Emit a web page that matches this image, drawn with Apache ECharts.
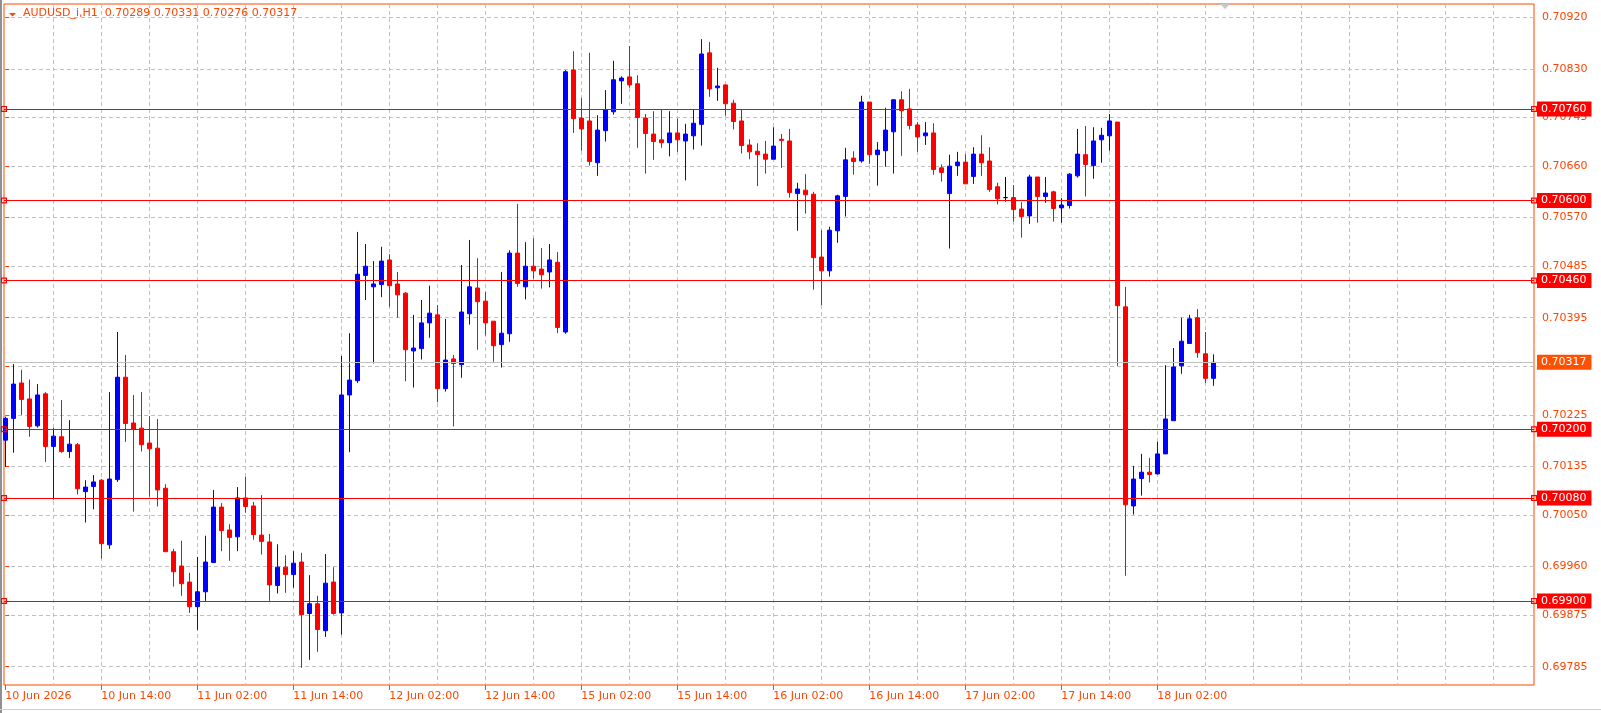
<!DOCTYPE html>
<html>
<head>
<meta charset="utf-8">
<script src="https://cdn.jsdelivr.net/npm/echarts@6/dist/echarts.min.js"></script>
<style>
html, body { margin: 0; padding: 0; background: #fff; }
#chart { width: 1601px; height: 713px; }
</style>
</head>
<body>
<div id="chart"></div>
<script>
// AUDUSD_i H1 bars, 10 Jun 02:00 .. 18 Jun 09:00
const opens = [
  0.70181,0.70219,0.70281,0.70253,0.70206,0.70262,0.70170,0.70187,0.70161,0.70173,0.70091,0.70100,
  0.70111,0.69998,0.70112,0.70291,0.70211,0.70202,0.70176,0.70167,0.70097,0.69986,0.69961,0.69933,
  0.69890,0.69916,0.69967,0.70064,0.70024,0.70012,0.70080,0.70066,0.70015,0.70003,0.69927,0.69959,
  0.69946,0.69968,0.69878,0.69895,0.69848,0.69933,0.69879,0.70260,0.70285,0.70469,0.70449,0.70453,
  0.70496,0.70454,0.70438,0.70337,0.70341,0.70386,0.70400,0.70271,0.70323,0.70313,0.70402,0.70447,
  0.70424,0.70389,0.70348,0.70367,0.70508,0.70449,0.70485,0.70480,0.70475,0.70492,0.70370,0.70828,
  0.70744,0.70739,0.70666,0.70722,0.70755,0.70809,0.70816,0.70804,0.70744,0.70716,0.70706,0.70701,
  0.70718,0.70704,0.70713,0.70733,0.70858,0.70797,0.70802,0.70770,0.70739,0.70697,0.70686,0.70681,
  0.70672,0.70707,0.70704,0.70612,0.70618,0.70611,0.70501,0.70477,0.70547,0.70607,0.70674,0.70669,
  0.70772,0.70680,0.70687,0.70720,0.70776,0.70760,0.70732,0.70713,0.70718,0.70657,0.70612,0.70661,
  0.70667,0.70642,0.70681,0.70669,0.70624,0.70605,0.70605,0.70585,0.70573,0.70641,0.70607,0.70615,
  0.70587,0.70591,0.70643,0.70680,0.70661,0.70706,0.70713,0.70737,0.70414,0.70066,0.70114,0.70125,
  0.70122,0.70157,0.70215,0.70311,0.70350,0.70395,0.70332,0.70289
];
const highs = [
  0.70222,0.70314,0.70304,0.70287,0.70279,0.70265,0.70202,0.70251,0.70216,0.70176,0.70111,0.70120,
  0.70113,0.70265,0.70370,0.70330,0.70260,0.70265,0.70223,0.70218,0.70104,0.69991,0.70005,0.69949,
  0.69977,0.70014,0.70094,0.70071,0.70034,0.70099,0.70117,0.70073,0.70085,0.70017,0.69999,0.69980,
  0.69987,0.69984,0.69945,0.69909,0.69982,0.69959,0.70328,0.70368,0.70545,0.70524,0.70494,0.70519,
  0.70506,0.70475,0.70440,0.70400,0.70426,0.70451,0.70417,0.70393,0.70330,0.70487,0.70531,0.70499,
  0.70440,0.70389,0.70475,0.70513,0.70594,0.70527,0.70534,0.70517,0.70524,0.70510,0.70828,0.70861,
  0.70779,0.70858,0.70749,0.70793,0.70844,0.70817,0.70870,0.70819,0.70751,0.70756,0.70760,0.70756,
  0.70743,0.70734,0.70759,0.70882,0.70877,0.70832,0.70802,0.70776,0.70760,0.70707,0.70700,0.70704,
  0.70728,0.70716,0.70725,0.70631,0.70646,0.70615,0.70548,0.70554,0.70610,0.70692,0.70686,0.70783,
  0.70772,0.70702,0.70762,0.70777,0.70791,0.70795,0.70737,0.70737,0.70735,0.70663,0.70680,0.70685,
  0.70681,0.70693,0.70714,0.70693,0.70631,0.70641,0.70627,0.70597,0.70645,0.70641,0.70641,0.70617,
  0.70604,0.70648,0.70725,0.70730,0.70728,0.70727,0.70751,0.70737,0.70449,0.70136,0.70157,0.70150,
  0.70178,0.70312,0.70342,0.70395,0.70400,0.70410,0.70370,0.70331
];
const lows = [
  0.70134,0.70159,0.70225,0.70187,0.70203,0.70143,0.70077,0.70159,0.70150,0.70086,0.70037,0.70060,
  0.69974,0.69991,0.70108,0.70178,0.70056,0.70161,0.70082,0.70065,0.69986,0.69925,0.69909,0.69879,
  0.69849,0.69900,0.69967,0.69987,0.69970,0.69987,0.70054,0.70007,0.69981,0.69900,0.69913,0.69914,
  0.69923,0.69783,0.69797,0.69811,0.69837,0.69876,0.69841,0.70160,0.70281,0.70426,0.70315,0.70431,
  0.70414,0.70395,0.70284,0.70273,0.70322,0.70360,0.70247,0.70266,0.70205,0.70290,0.70383,0.70339,
  0.70364,0.70318,0.70308,0.70353,0.70449,0.70427,0.70463,0.70446,0.70448,0.70368,0.70367,0.70718,
  0.70687,0.70661,0.70643,0.70703,0.70750,0.70769,0.70797,0.70692,0.70647,0.70671,0.70692,0.70677,
  0.70685,0.70635,0.70689,0.70696,0.70781,0.70774,0.70748,0.70724,0.70682,0.70672,0.70625,0.70647,
  0.70672,0.70657,0.70605,0.70547,0.70577,0.70444,0.70417,0.70467,0.70526,0.70572,0.70645,0.70666,
  0.70664,0.70626,0.70659,0.70647,0.70678,0.70724,0.70685,0.70697,0.70645,0.70633,0.70516,0.70643,
  0.70629,0.70629,0.70643,0.70615,0.70593,0.70598,0.70563,0.70535,0.70559,0.70561,0.70596,0.70563,
  0.70561,0.70586,0.70640,0.70607,0.70638,0.70666,0.70687,0.70311,0.69944,0.70051,0.70084,0.70107,
  0.70121,0.70157,0.70215,0.70297,0.70350,0.70325,0.70281,0.70276
];
const closes = [
  0.70219,0.70279,0.70252,0.70205,0.70260,0.70170,0.70188,0.70161,0.70174,0.70096,0.70099,0.70108,
  0.70000,0.70113,0.70291,0.70210,0.70200,0.70173,0.70166,0.70094,0.69986,0.69951,0.69930,0.69890,
  0.69916,0.69968,0.70064,0.70023,0.70011,0.70080,0.70065,0.70016,0.70004,0.69928,0.69959,0.69946,
  0.69966,0.69876,0.69895,0.69850,0.69931,0.69878,0.70260,0.70286,0.70471,0.70485,0.70454,0.70494,
  0.70451,0.70435,0.70339,0.70342,0.70386,0.70403,0.70271,0.70321,0.70315,0.70405,0.70449,0.70423,
  0.70386,0.70346,0.70368,0.70508,0.70455,0.70485,0.70477,0.70470,0.70496,0.70378,0.70825,0.70743,
  0.70725,0.70668,0.70723,0.70759,0.70811,0.70814,0.70802,0.70745,0.70717,0.70703,0.70701,0.70718,
  0.70706,0.70716,0.70735,0.70856,0.70795,0.70800,0.70769,0.70738,0.70696,0.70685,0.70680,0.70672,
  0.70695,0.70705,0.70614,0.70620,0.70610,0.70500,0.70477,0.70548,0.70608,0.70671,0.70668,0.70772,
  0.70680,0.70688,0.70723,0.70776,0.70757,0.70731,0.70711,0.70718,0.70654,0.70649,0.70660,0.70667,
  0.70629,0.70681,0.70666,0.70619,0.70603,0.70605,0.70584,0.70572,0.70641,0.70607,0.70613,0.70586,
  0.70592,0.70646,0.70681,0.70663,0.70704,0.70714,0.70739,0.70416,0.70068,0.70113,0.70125,0.70121,
  0.70157,0.70218,0.70309,0.70354,0.70393,0.70334,0.70289,0.70317
];

// time labels, every 12 bars
const timeLabels = ['10 Jun 2026', '10 Jun 14:00', '11 Jun 02:00', '11 Jun 14:00', '12 Jun 02:00',
  '12 Jun 14:00', '15 Jun 02:00', '15 Jun 14:00', '16 Jun 02:00', '16 Jun 14:00',
  '17 Jun 02:00', '17 Jun 14:00', '18 Jun 02:00'];
const timeLabelBars = [0, 12, 24, 36, 48, 60, 72, 84, 96, 108, 120, 132, 144];
const gridBars = [6, 12, 18, 24, 30, 36, 42, 48, 54, 60, 66, 72, 78, 84, 90, 96, 102, 108, 114, 120,
  126, 132, 138, 144, 150, 156, 162, 168, 174, 180, 186];
const priceTicks = [0.69785, 0.69875, 0.69960, 0.70050, 0.70135, 0.70225, 0.70310, 0.70395,
  0.70485, 0.70570, 0.70660, 0.70745, 0.70830, 0.70920];
const levels = [0.70760, 0.70600, 0.70460, 0.70200, 0.70080, 0.69900];
const bidPrice = 0.70317;
const symbolTf = 'AUDUSD_i,H1';

const ORANGE = '#FF4500';
const FONT = 'DejaVu Sans';
const last = opens.length - 1;

const candles = opens.map((o, i) => [i, o, closes[i], lows[i], highs[i]]);
const labelOf = {};
timeLabelBars.forEach((b, k) => { labelOf[b] = timeLabels[k]; });

const hollowSquare = 'path://M0,0H10V10H0Z M2,2V8H8V2Z';

const chart = echarts.init(document.getElementById('chart'));
chart.setOption({
  animation: false,
  backgroundColor: '#fff',
  title: {
    text: symbolTf + '  ' + [opens[last], highs[last], lows[last], closes[last]].map(v => v.toFixed(5)).join(' '),
    left: 23, top: 8, padding: 0,
    textStyle: { color: ORANGE, fontSize: 11, fontWeight: 'normal', fontFamily: FONT }
  },
  grid: {
    left: 4, top: 4, right: 67, bottom: 28,
    show: true, borderColor: ORANGE, borderWidth: 1, backgroundColor: '#fff'
  },
  xAxis: [{
    type: 'value',
    min: -0.1625, max: 191.0875,
    position: 'bottom',
    axisLine: { show: false },
    axisTick: { show: true, length: 5, lineStyle: { color: ORANGE }, customValues: timeLabelBars },
    axisLabel: {
      customValues: timeLabelBars,
      formatter: v => labelOf[Math.round(v)] || '',
      align: 'left', margin: 6,
      color: ORANGE, fontSize: 11, fontFamily: FONT
    },
    splitLine: { show: false }
  }, {
    type: 'value',
    min: -0.1625, max: 191.0875,
    position: 'top',
    axisLine: { show: false },
    axisTick: { show: false, customValues: gridBars },
    axisLabel: { show: false },
    splitLine: { show: true, lineStyle: { color: '#C0C0C0', type: [4, 3], width: 1 } }
  }],
  yAxis: {
    type: 'value',
    position: 'right',
    min: 0.69753, max: 0.709434,
    axisLine: { show: false },
    axisTick: { show: true, length: 4, lineStyle: { color: ORANGE }, customValues: priceTicks },
    axisLabel: {
      customValues: priceTicks,
      formatter: v => v.toFixed(5),
      margin: 8, color: ORANGE, fontSize: 11, fontFamily: FONT
    },
    splitLine: { show: true, lineStyle: { color: '#C0C0C0', type: [4, 3], width: 1 } }
  },
  series: [{
    type: 'candlestick',
    xAxisIndex: 0,
    data: candles,
    encode: { x: 0, y: [1, 2, 3, 4] },
    barWidth: 4,
    itemStyle: {
      color: '#0000FF', color0: '#FF0000',
      borderColor: '#0000FF', borderColor0: '#FF0000', borderColorDoji: '#000000',
      borderWidth: 1
    },
    emphasis: { disabled: true },
    markLine: {
      silent: true,
      precision: 5,
      symbol: [hollowSquare, hollowSquare],
      symbolSize: 6,
      lineStyle: { color: '#FF0000', width: 1, type: 'solid' },
      label: {
        show: true, position: 'end', distance: 3,
        formatter: p => p.value.toFixed(5),
        color: '#fff', backgroundColor: '#FF0000', padding: [2, 5, 2, 4],
        fontSize: 11, fontFamily: FONT
      },
      emphasis: { disabled: true },
      data: levels.map(v => ({ yAxis: v }))
    }
  }, {
    type: 'line',
    data: [],
    markLine: {
      silent: true,
      precision: 5,
      symbol: 'none',
      lineStyle: { color: '#C0C0C0', width: 1, type: 'solid' },
      label: {
        show: true, position: 'end', distance: 3,
        formatter: p => p.value.toFixed(5),
        color: '#fff', backgroundColor: '#FF5000', padding: [2, 5, 2, 4],
        fontSize: 11, fontFamily: FONT
      },
      emphasis: { disabled: true },
      data: [{ yAxis: bidPrice }]
    }
  }],
  graphic: [
    { type: 'polygon', shape: { points: [[9, 13], [16, 13], [12.5, 16.5]] }, style: { fill: ORANGE } },
    { type: 'polygon', shape: { points: [[1220, 4], [1230, 4], [1225, 9]] }, style: { fill: '#C8C8C8' } },
    { type: 'line', shape: { x1: 1, y1: 0, x2: 1, y2: 713 }, style: { stroke: '#909090', lineWidth: 2 } },
    { type: 'line', shape: { x1: 0, y1: 709.5, x2: 1601, y2: 709.5 }, style: { stroke: '#D0D0D0', lineWidth: 1 } }
  ]
});
</script>
</body>
</html>
